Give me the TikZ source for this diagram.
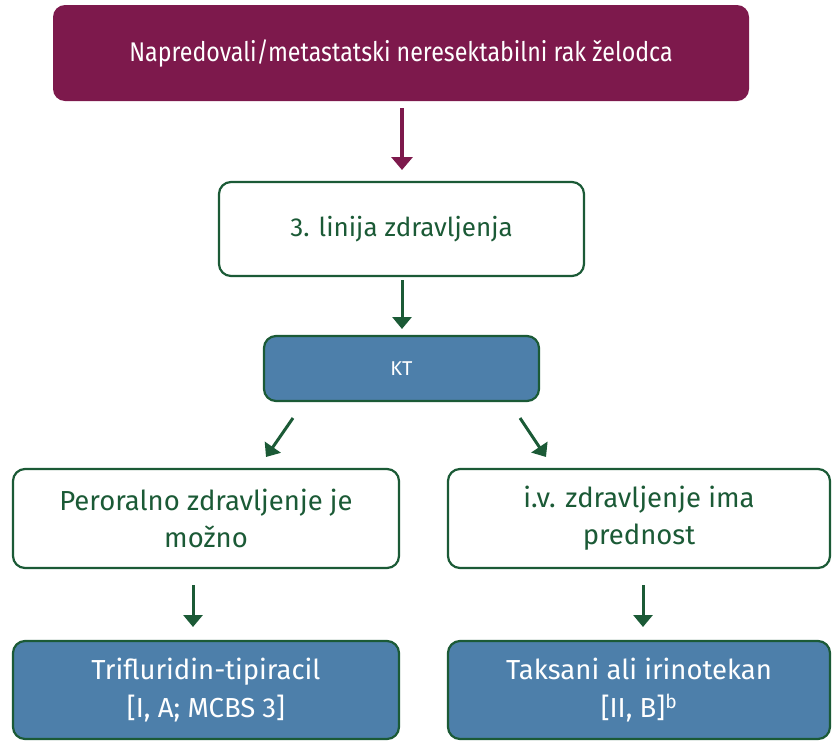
\documentclass[tikz,border=0pt]{standalone}
\usepackage{fontspec}
\setmainfont{Fira Sans}
\newfontfamily\condfont{Fira Sans}[FakeStretch=0.86]
\usetikzlibrary{arrows.meta}
\definecolor{maroon}{HTML}{7D194C}
\definecolor{dgreen}{HTML}{1B5A36}
\definecolor{sblue}{HTML}{4D7FAA}
\tikzset{
  box/.style={rounded corners=12pt, line width=2.2pt, inner sep=0pt, align=center},
  whitebox/.style={box, draw=dgreen, fill=white, text=dgreen},
  bluebox/.style={box, draw=dgreen, fill=sblue, text=white},
  topbox/.style={box, draw=none, fill=maroon, text=white},
  garrow/.style={draw=dgreen, line width=3pt, -{Triangle[length=12pt,width=19pt]}},
  marrow/.style={draw=maroon, line width=3.5pt, -{Triangle[length=13pt,width=21pt]}},
}
\begin{document}
\begin{tikzpicture}[x=1pt,y=-1pt]
\useasboundingbox (0,0) rectangle (832,742);
\node[topbox, minimum width=696pt, minimum height=96pt, font=\condfont\fontsize{27}{32}\selectfont] (top) at (401,53) {Napredovali/metastatski neresektabilni rak želodca};
\node[whitebox, minimum width=365pt, minimum height=94pt, font=\fontsize{26}{31}\selectfont] (line) at (401.5,229) {3. linija zdravljenja};
\node[bluebox, minimum width=275pt, minimum height=65pt, font=\fontsize{20}{24}\selectfont] (kt) at (401.5,368.5) {KT};
\node[whitebox, minimum width=386pt, minimum height=99pt, font=\fontsize{27.5}{37}\selectfont] (oral) at (206,518.5) {Peroralno zdravljenje je\\možno};
\node[whitebox, minimum width=382pt, minimum height=99pt, font=\fontsize{27.5}{37}\selectfont] (iv) at (639,518.5) {i.v. zdravljenje ima\\prednost};
\node[bluebox, minimum width=386pt, minimum height=98pt, font=\fontsize{27.5}{38}\selectfont] (tri) at (206,690) {Trifluridin-tipiracil\\{}[I, A; MCBS 3]};
\node[bluebox, minimum width=382pt, minimum height=98pt, font=\fontsize{27.5}{38}\selectfont] (tax) at (639,690) {Taksani ali irinotekan\\{}[II, B]\textsuperscript{b}};
\coordinate (a1s) at (402,108);
\coordinate (a1e) at (402,170);
\coordinate (a2s) at (402,280);
\coordinate (a2e) at (402,329);
\draw[marrow] (a1s) -- (a1e);
\draw[garrow] (a2s) -- (a2e);
\draw[garrow] (293,418) -- (266,457);
\draw[garrow] (520,418) -- (546,457);
\draw[garrow] (193,585) -- (193,627);
\draw[garrow] (643,585) -- (643,627);
\end{tikzpicture}
\end{document}
